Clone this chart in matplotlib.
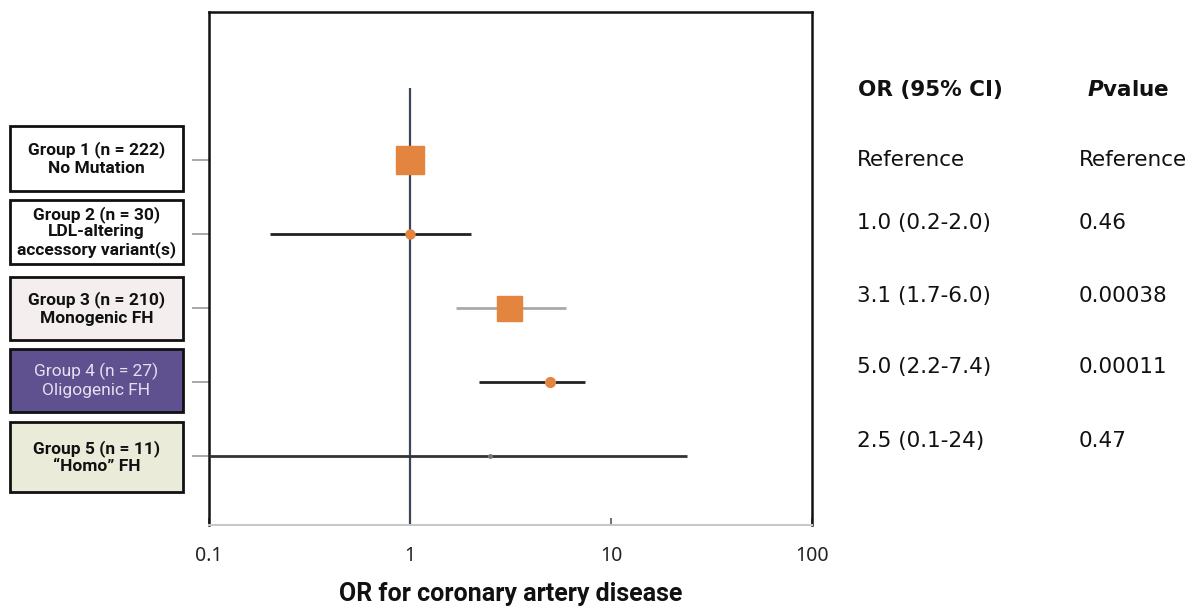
import matplotlib
matplotlib.use("Agg")
import matplotlib.pyplot as plt
from matplotlib.patches import Rectangle

groups = ["Group 1 (n = 222)\nNo Mutation",
          "Group 2 (n = 30)\nLDL-altering\naccessory variant(s)",
          "Group 3 (n = 210)\nMonogenic FH",
          "Group 4 (n = 27)\nOligogenic FH",
          "Group 5 (n = 11)\n\u201cHomo\u201d FH"]
odds = [1.0, 1.0, 3.1, 5.0, 2.5]
ci_low = [None, 0.2, 1.7, 2.2, 0.1]
ci_high = [None, 2.0, 6.0, 7.4, 24]
or_text = ["Reference", "1.0 (0.2-2.0)", "3.1 (1.7-6.0)", "5.0 (2.2-7.4)", "2.5 (0.1-24)"]
p_text = ["Reference", "0.46", "0.00038", "0.00011", "0.47"]
xticks = [0.1, 1, 10, 100]
xticklabels = ["0.1", "1", "10", "100"]

box_faces = ["#ffffff", "#ffffff", "#f4eeee", "#5f5190", "#ebebda"]
text_colors = ["#111111", "#111111", "#111111", "#e4e0f0", "#111111"]
line_colors = ["#222222", "#222222", "#a9a9a9", "#222222", "#333333"]
marker_shapes = ["s", "o", "s", "o", "o"]
marker_sizes = [20, 6.5, 18, 7, 2.5]
orange = "#e3843f"

W, H = 1203, 615
fig = plt.figure(figsize=(W / 100, H / 100), dpi=100)
ax = fig.add_axes([209 / W, 1 - 525 / H, (812 - 209) / W, (525 - 12) / H])
ax.set_xscale("log")
ax.set_xlim(0.1, 100)
ax.set_ylim(4.93, -2.0)

# reference line
ax.plot([1, 1], [-0.97, 4.93], color="#3b4656", lw=1.6, zorder=2, solid_capstyle="butt")

for i in range(len(groups)):
    if ci_low[i] is not None:
        ax.plot([ci_low[i], ci_high[i]], [i, i], color=line_colors[i], lw=2.0, zorder=3,
                solid_capstyle="butt")
    mc = orange if i != 4 else "#777777"
    ax.plot([odds[i]], [i], marker=marker_shapes[i], ms=marker_sizes[i], color=mc,
            mec=mc, zorder=4, linestyle="none")

ax.set_xticks(xticks)
ax.set_xticklabels(xticklabels, fontsize=14, family="Noto Sans", color="#222222")
ax.minorticks_off()
ax.tick_params(axis="x", direction="in", length=5, width=1.2, pad=15, color="#555555")
ax.set_yticks(range(len(groups)))
ax.set_yticklabels([])
ax.tick_params(axis="y", direction="out", length=12, width=1.2, color="#999999")

for s in ["left", "top", "right"]:
    ax.spines[s].set_color("#111111")
    ax.spines[s].set_linewidth(1.8)
ax.spines["bottom"].set_color("#c8c8c8")
ax.spines["bottom"].set_linewidth(1.5)

ax.set_xlabel("OR for coronary artery disease", fontsize=18, fontweight="bold",
              family="Roboto", labelpad=12, color="#111111")

# group label boxes (pixel top/bottom)
box_tops = [126, 200, 277, 349, 422]
box_bots = [191, 264, 340, 412, 492]
for i, g in enumerate(groups):
    x0, x1 = 10, 183
    y0 = 1 - box_bots[i] / H
    h = (box_bots[i] - box_tops[i]) / H
    rect = Rectangle((x0 / W, y0), (x1 - x0) / W, h, transform=fig.transFigure,
                     facecolor=box_faces[i], edgecolor="#111111", lw=2.0)
    fig.add_artist(rect)
    weight = "normal" if i == 3 else "bold"
    fig.text((x0 + x1) / 2 / W, y0 + h / 2, g, ha="center", va="center",
             fontsize=12.5, fontweight=weight, family="Roboto", color=text_colors[i],
             linespacing=1.2 if i != 1 else 1.1)

# right-hand table
fig.text(858 / W, 1 - 90 / H, "OR (95% CI)", ha="left", va="center", fontsize=15.5,
         fontweight="bold", family="DejaVu Sans", color="#111111")
fig.text(1087 / W, 1 - 90 / H, r"$\bfit{P}$" + "value", ha="left", va="center",
         fontsize=15.5, fontweight="bold", family="DejaVu Sans", color="#111111")
row_y = [160, 223, 296, 367, 441]
for i in range(len(or_text)):
    fig.text(857 / W, 1 - row_y[i] / H, or_text[i], ha="left", va="center",
             fontsize=15.5, family="DejaVu Sans", color="#111111")
    fig.text(1079 / W, 1 - row_y[i] / H, p_text[i], ha="left", va="center",
             fontsize=15.5, family="DejaVu Sans", color="#111111")

fig.savefig("out.png", dpi=100, facecolor="white")
